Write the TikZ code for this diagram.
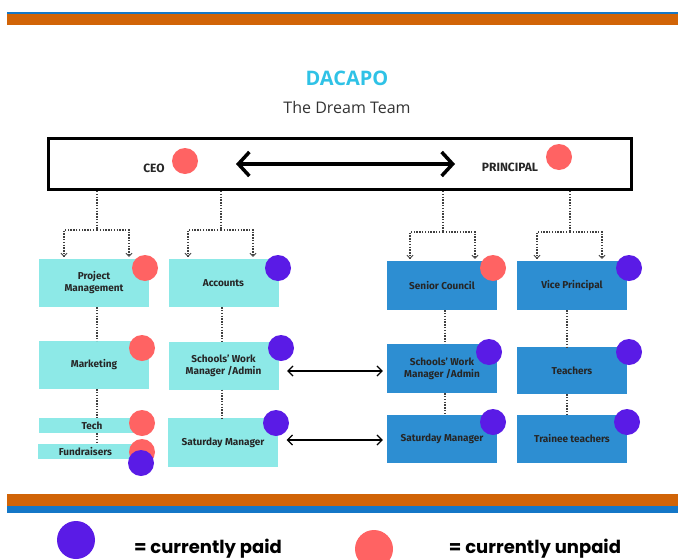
\documentclass[tikz,border=0pt]{standalone}
\usepackage{fontspec}
\setmainfont{Fira Sans}
\newfontfamily\titlefont{Open Sans}
\newfontfamily\legendfont{Poppins}
\usetikzlibrary{arrows.meta,calc}
\definecolor{barorange}{HTML}{D16407}
\definecolor{barblue}{HTML}{1477C7}
\definecolor{dacapo}{HTML}{2FC2E6}
\definecolor{lightbox}{HTML}{8DE9E7}
\definecolor{darkbox}{HTML}{2D8ED2}
\definecolor{unpaid}{HTML}{FF6363}
\definecolor{paid}{HTML}{5A1BE6}
\tikzset{
    team/.style={fill=lightbox, minimum width=110, minimum height=48, inner sep=0pt, align=center, text=black!85, font=\bfseries\fontsize{10}{12}\selectfont},
    council/.style={team, fill=darkbox},
    thin team/.style={team, minimum height=15},
    dotline/.style={line width=1.3pt, dash pattern=on 1.4pt off 1.4pt, black!75},
    forkarrow/.style={dotline, -{Straight Barb[length=3pt,width=6pt,line width=0.8pt]}},
    unpaid dot/.style={circle, fill=unpaid, minimum size=26, inner sep=0pt},
    paid dot/.style={circle, fill=paid, minimum size=26, inner sep=0pt}
}
\begin{document}
\begin{tikzpicture}[x=1pt,y=-1pt]
\useasboundingbox (0,0) rectangle (678,560);

% bars
\fill[barblue] (7,12) rectangle (678,14);
\fill[barorange] (7,14) rectangle (678,25);
\fill[barorange] (7,494) rectangle (678,506);
\fill[barblue] (7,506) rectangle (678,513);

% title
\node[font=\titlefont\bfseries\fontsize{20}{24}\selectfont, text=dacapo] (title) at (347,78) {DACAPO};
\node[font=\titlefont\fontsize{16}{19}\selectfont, text=black!80] (subtitle) at (347,107) {The Dream Team};

% top box
\node[draw, line width=3pt, minimum width=583, minimum height=51] (top) at (340,164) {};
\node[font=\bfseries\fontsize{12}{14}\selectfont, text=black!85] (ceo) at (154,168) {CEO};
\node[font=\bfseries\fontsize{12}{14}\selectfont, text=black!85] (prin) at (510,167) {PRINCIPAL};
\coordinate (la) at (236,164);
\coordinate (ra) at (455,164);
\draw[line width=4pt, {Straight Barb[length=11pt,width=24pt,line width=3.5pt]}-{Straight Barb[length=11pt,width=24pt,line width=3.5pt]}] (la) -- (ra);

% teams
\node[team] (pm) at (94,283) {Project\\Management};
\node[team] (acc) at (223.5,283) {Accounts};
\node[team] (mkt) at (94,365) {Marketing};
\node[team] (swmL) at (223.5,365.5) {Schools' Work\\Manager /Admin};
\node[thin team, minimum width=106] (tech) at (92,425.5) {Tech};
\node[thin team, minimum width=95] (fund) at (85.5,451.5) {Fundraisers};
\node[team, minimum height=49] (satL) at (223,442.5) {Saturday Manager};
\node[council, minimum height=49] (sc) at (442,285.5) {Senior Council};
\node[council, minimum height=49] (vp) at (572,285.5) {Vice Principal};
\node[council, minimum height=49] (swmR) at (442,368.5) {Schools' Work\\Manager /Admin};
\node[council, minimum height=47] (tch) at (572,370.5) {Teachers};
\node[council] (satR) at (442,439) {Saturday Manager};
\node[council] (trn) at (572,439) {Trainee teachers};

% forks
\coordinate (f1) at (97,230);
\coordinate (f2) at (221,230);
\coordinate (f3) at (443,232);
\coordinate (f4) at (570,232);
\foreach \f/\b in {f1/pm,f2/acc,f3/sc,f4/vp}{
    \draw[dotline] (\f |- top.south) -- (\f);
    \draw[forkarrow] (\f) -| ($(\b.north -| \f)+(-33,-2)$);
    \draw[forkarrow] (\f) -| ($(\b.north -| \f)+(32,-2)$);
}

% vertical links
\coordinate (v1) at (97,0);
\coordinate (v2) at (222,0);
\coordinate (v3) at (445,0);
\coordinate (v4) at (567,0);
\foreach \v/\a/\b in {v1/pm/mkt,v1/mkt/tech,v1/tech/fund,v2/acc/swmL,v2/swmL/satL,v3/sc/swmR,v3/swmR/satR,v4/vp/tch,v4/tch/trn}
    \draw[dotline] (\a.south -| \v) -- (\b.north -| \v);

% links across
\coordinate (r1) at (0,371);
\coordinate (r2) at (0,440);
\draw[line width=1.2pt, {Straight Barb[length=5pt,width=10pt]}-{Straight Barb[length=5pt,width=10pt]}, shorten <=8.5pt, shorten >=4pt] (swmL.east |- r1) -- (swmR.west |- r1);
\draw[line width=1.2pt, {Straight Barb[length=5pt,width=10pt]}-{Straight Barb[length=5pt,width=10pt]}, shorten <=8.5pt, shorten >=4pt] (satL.east |- r2) -- (satR.west |- r2);

% pay dots
\node[unpaid dot] (d1) at (185,161) {};
\node[unpaid dot] (d2) at (559,157) {};
\node[unpaid dot] (d3) at (145,268) {};
\node[paid dot] (d4) at (278,268) {};
\node[unpaid dot] (d5) at (493,268) {};
\node[paid dot] (d6) at (629,268) {};
\node[unpaid dot] (d7) at (142,348) {};
\node[paid dot] (d8) at (281,348) {};
\node[paid dot] (d9) at (489,352) {};
\node[paid dot] (d10) at (629,352) {};
\node[unpaid dot] (d11) at (142,423) {};
\node[unpaid dot] (d12) at (142,452) {};
\node[paid dot] (d13) at (141,463) {};
\node[paid dot] (d14) at (276,423) {};
\node[paid dot] (d15) at (493,422) {};
\node[paid dot] (d16) at (627,422) {};

% legend
\node[paid dot, minimum size=38] (kpaid) at (76,540) {};
\node[unpaid dot, minimum size=38] (kunpaid) at (374,549) {};
\node[font=\legendfont\bfseries\fontsize{18}{21}\selectfont] (tpaid) at (208,549) {= currently paid};
\node[font=\legendfont\bfseries\fontsize{18}{21}\selectfont] (tunpaid) at (535,549) {= currently unpaid};
\end{tikzpicture}
\end{document}
